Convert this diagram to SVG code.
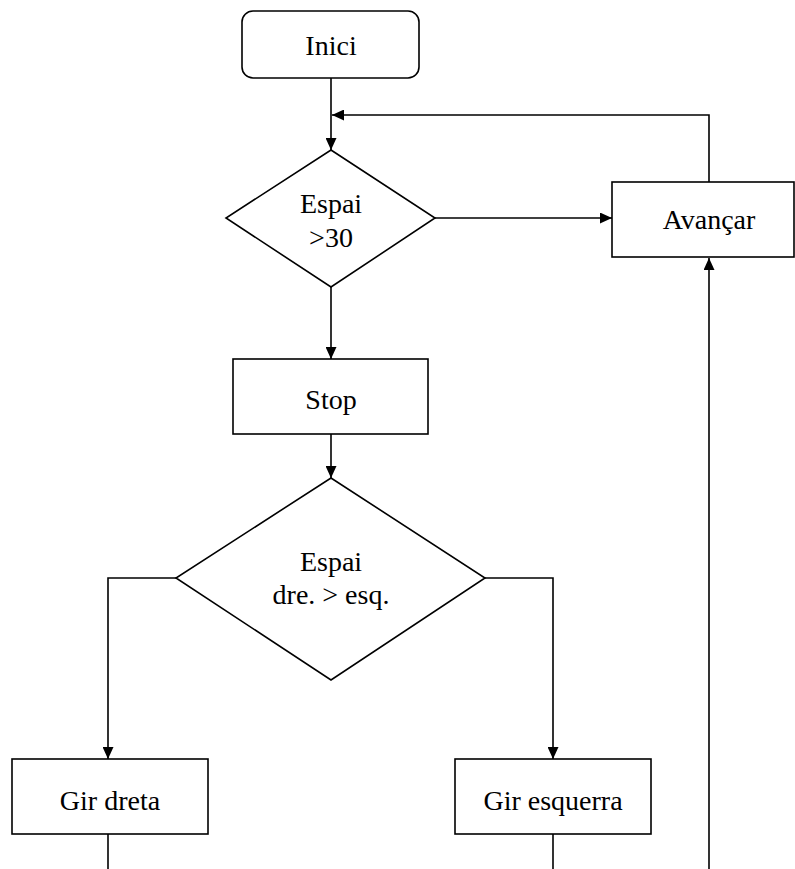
<svg xmlns="http://www.w3.org/2000/svg" width="795" height="869" viewBox="0 0 795 869">
<style>
.n{fill:#fff;stroke:#000;stroke-width:1.6}
.t{font-family:"Liberation Serif","Times New Roman",serif;font-size:28px;fill:#000;text-anchor:middle}
.c{fill:none;stroke:#000;stroke-width:1.6}
</style>
<defs>
<marker id="ah" viewBox="0 0 12 11" refX="12" refY="5.5" markerWidth="12" markerHeight="11" markerUnits="userSpaceOnUse" orient="auto">
<path d="M0,0 L12,5.5 L0,11 Z" fill="#000"/>
</marker>
</defs>
<rect width="795" height="869" fill="#fff"/>
<g id="connectors">
<path class="c" d="M331,78 V150" marker-end="url(#ah)"/>
<path class="c" d="M709,183 V115 H332" marker-end="url(#ah)"/>
<path class="c" d="M435,218 H612" marker-end="url(#ah)"/>
<path class="c" d="M331,287 V359" marker-end="url(#ah)"/>
<path class="c" d="M331,434 V478" marker-end="url(#ah)"/>
<path class="c" d="M176,578 H108 V759" marker-end="url(#ah)"/>
<path class="c" d="M485,578 H553 V759" marker-end="url(#ah)"/>
<path class="c" d="M709,869 V258" marker-end="url(#ah)"/>
<path class="c" d="M108,834 V869"/>
<path class="c" d="M553,834 V869"/>
</g>
<g id="inici">
<rect class="n" x="242" y="11" width="177" height="67" rx="11"/>
<text class="t" x="331" y="55">Inici</text>
</g>
<g id="espai30">
<polygon class="n" points="331,150 435,218 331,287 226,218"/>
<text class="t" x="331" y="213">Espai</text>
<text class="t" x="331" y="247">&gt;30</text>
</g>
<g id="avancar">
<rect class="n" x="612" y="182" width="182" height="75"/>
<text class="t" x="709" y="229">Avançar</text>
</g>
<g id="stop">
<rect class="n" x="233" y="359" width="195" height="75"/>
<text class="t" x="331" y="409">Stop</text>
</g>
<g id="espaidre">
<polygon class="n" points="331,478 485,578 331,680 176,578"/>
<text class="t" x="331" y="571">Espai</text>
<text class="t" x="331" y="604">dre. &gt; esq.</text>
</g>
<g id="girdreta">
<rect class="n" x="12" y="759" width="196" height="75"/>
<text class="t" x="110" y="810">Gir dreta</text>
</g>
<g id="giresquerra">
<rect class="n" x="455" y="759" width="196" height="75"/>
<text class="t" x="553" y="810">Gir esquerra</text>
</g>
</svg>
